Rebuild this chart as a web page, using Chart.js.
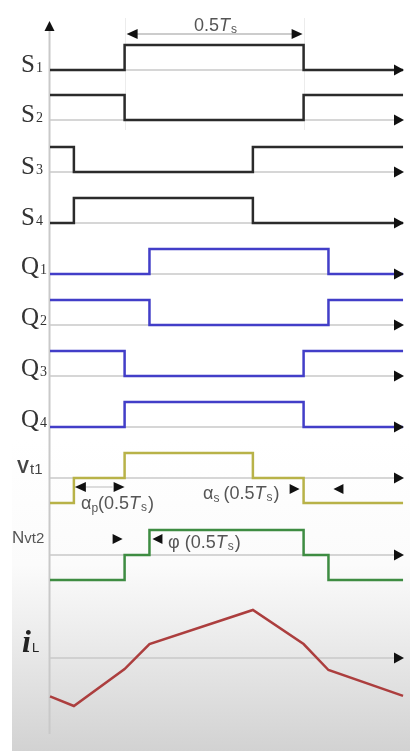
<!DOCTYPE html>
<html>
<head>
<meta charset="utf-8">
<script src="https://cdn.jsdelivr.net/npm/chart.js@4.4.0/dist/chart.umd.min.js"></script>
<style>
  html, body { margin: 0; padding: 0; background: #fff; }
  canvas { display: block; }
</style>
</head>
<body>
<canvas id="myChart" width="410" height="751"></canvas>
<script>
// switching instants in degrees (180 = 0.5Ts); a point holds its level until the next one
const times = [0, 24, 75, 100, 204, 255, 280, 355];
const s1 = [0, 0, 1, 1, 1, 0, 0, 0];
const s2 = [1, 1, 0, 0, 0, 1, 1, 1];
const s3 = [1, 0, 0, 0, 1, 1, 1, 1];
const s4 = [0, 1, 1, 1, 0, 0, 0, 0];
const q1 = [0, 0, 0, 1, 1, 1, 0, 0];
const q2 = [1, 1, 1, 0, 0, 0, 1, 1];
const q3 = [1, 1, 0, 0, 0, 1, 1, 1];
const q4 = [0, 0, 1, 1, 1, 0, 0, 0];
const vt1 = [-1, 0, 1, 1, 0, -1, -1, -1];
const nvt2 = [-1, -1, 0, 1, 1, 0, -1, -1];
// inductor current, normalised to its peak
const iL = [-0.8, -1.0, -0.23, 0.29, 1.0, 0.29, -0.25, -0.79];

const names = ["S1", "S2", "S3", "S4", "Q1", "Q2", "Q3", "Q4"];

// layout (pixel rows, y scale runs 0..751 top-down)
const rowBase = [70, 120, 172, 223, 274, 325, 376, 427];
const amp = 25;
const vt1Mid = 478, nvt2Mid = 555, iLAxis = 658, iLAmp = 48;

const BLACK = "#2b2b2b";
const BLUE = "rgb(66, 62, 200)";
const OLIVE = "rgb(184, 178, 72)";
const GREEN = "rgb(62, 140, 66)";
const RED = "rgb(172, 62, 62)";

function wave(levels, base, a) {
  return times.map((t, i) => ({ x: t, y: base - levels[i] * a }));
}

const digital = [s1, s2, s3, s4, q1, q2, q3, q4];
const datasets = digital.map((lv, i) => ({
  data: wave(lv, rowBase[i], amp),
  borderColor: i < 4 ? BLACK : BLUE,
  borderWidth: 2.5,
  stepped: true,
}));
datasets.push({ data: wave(vt1, vt1Mid, amp), borderColor: OLIVE, borderWidth: 2.5, stepped: true });
datasets.push({ data: wave(nvt2, nvt2Mid, amp), borderColor: GREEN, borderWidth: 2.5, stepped: true });
datasets.push({ data: wave(iL, iLAxis, iLAmp), borderColor: RED, borderWidth: 2.5, tension: 0 });

function head(ctx, tipX, y, dir, len, half, color) {
  // dir: 1 = points right, -1 = points left
  ctx.fillStyle = color || "#111";
  ctx.beginPath();
  ctx.moveTo(tipX, y);
  ctx.lineTo(tipX - dir * len, y - half);
  ctx.lineTo(tipX - dir * len, y + half);
  ctx.closePath();
  ctx.fill();
}

// draw a run of [text, font, dy] pieces one after the other
function run(ctx, x, y, parts, color) {
  ctx.fillStyle = color;
  parts.forEach(([txt, font, dy, gap]) => {
    ctx.font = font;
    ctx.fillText(txt, x, y + (dy || 0));
    x += ctx.measureText(txt).width + (gap || 0);
  });
}

const F = '18px "Liberation Sans"';
const FI = 'italic 18px "Liberation Sans"';
const FS = '12px "Liberation Sans"';

const diagram = {
  id: "diagram",
  beforeDatasetsDraw(chart) {
    const ctx = chart.ctx;
    const xs = chart.scales.x;
    ctx.save();
    // grey backdrop of the lower part
    const g = ctx.createLinearGradient(0, 440, 0, 751);
    g.addColorStop(0, "#ffffff");
    g.addColorStop(0.4, "#fbfbfb");
    g.addColorStop(0.6, "#eeeeee");
    g.addColorStop(1, "#d2d2d2");
    ctx.fillStyle = g;
    ctx.fillRect(12, 440, 398, 311);

    // faint guides for 0.5Ts
    ctx.strokeStyle = "#ececec";
    ctx.lineWidth = 1;
    [75, 255].forEach(t => {
      const px = Math.round(xs.getPixelForValue(t)) + 0.5;
      ctx.beginPath();
      ctx.moveTo(px, 18);
      ctx.lineTo(px, 130);
      ctx.stroke();
    });

    // time axes
    const x0 = xs.getPixelForValue(0);
    ctx.strokeStyle = "#c9c9c9";
    ctx.lineWidth = 1.5;
    rowBase.concat([vt1Mid, nvt2Mid, iLAxis]).forEach(y => {
      ctx.beginPath();
      ctx.moveTo(x0, y);
      ctx.lineTo(398, y);
      ctx.stroke();
    });
    // vertical axis
    ctx.lineWidth = 2;
    ctx.beginPath();
    ctx.moveTo(x0 - 0.5, 28);
    ctx.lineTo(x0 - 0.5, 734);
    ctx.stroke();
    ctx.restore();
  },
  afterDatasetsDraw(chart) {
    const ctx = chart.ctx;
    const xs = chart.scales.x;
    const px = t => xs.getPixelForValue(t);
    ctx.save();
    ctx.textBaseline = "alphabetic";

    // arrow heads on axes
    rowBase.concat([vt1Mid, nvt2Mid, iLAxis]).forEach(y => head(ctx, 404, y, 1, 10, 5.5));
    ctx.fillStyle = "#111";
    ctx.beginPath();
    ctx.moveTo(px(0) - 0.5, 21);
    ctx.lineTo(px(0) - 5.5, 31);
    ctx.lineTo(px(0) + 4.5, 31);
    ctx.closePath();
    ctx.fill();

    // 0.5Ts dimension
    const a = px(75) + 2, b = px(255) - 1;
    ctx.strokeStyle = "#9a9a9a";
    ctx.lineWidth = 1.2;
    ctx.beginPath();
    ctx.moveTo(a + 8, 34);
    ctx.lineTo(b - 8, 34);
    ctx.stroke();
    head(ctx, a, 34, -1, 11, 5);
    head(ctx, b, 34, 1, 11, 5);
    run(ctx, 194, 31, [["0.5", F], ["T", FI, 0, 1], ["s", FS, 2]], "#555");

    // signal names
    names.forEach((n, i) => {
      const isS = i < 4;
      run(ctx, 21, rowBase[i] + (isS ? 2 : 0),
        [[n[0], '25px "Liberation Serif"', 0, 1], [n[1], '14px "Liberation Serif"']], "#333");
    });
    run(ctx, 17, 473, [["V", 'bold 18px "Liberation Sans"', 0, 1], ["t1", '15px "Liberation Sans"', 1]], "#444");
    run(ctx, 12, 543, [["N", '17px "Liberation Sans"'], ["vt2", '15px "Liberation Sans"']], "#555");
    run(ctx, 22, 652, [["i", 'italic bold 32px "Liberation Serif"', 0, 1], ["L", '13px "Liberation Sans"']], "#222");

    // alpha_p
    ctx.strokeStyle = "#bbb";
    ctx.lineWidth = 1;
    ctx.beginPath();
    ctx.moveTo(px(24) + 12, 487);
    ctx.lineTo(px(75) - 12, 487);
    ctx.stroke();
    head(ctx, px(24) + 1, 487, -1, 11, 5);
    head(ctx, px(75), 487, 1, 11, 5);
    run(ctx, 81, 509, [["α", F], ["p", FS, 3], ["(0.5", F], ["T", FI, 0, 1], ["s", FS, 2, 1], [")", F]], "#555");

    // alpha_s
    head(ctx, px(255) - 4, 489, 1, 10, 5);
    head(ctx, px(280) + 5, 489, -1, 10, 5);
    run(ctx, 203, 499, [["α", F], ["s", FS, 3, 4], ["(0.5", F], ["T", FI, 0, 1], ["s", FS, 2, 1], [")", F]], "#555");

    // phi
    head(ctx, px(75) - 2, 539, 1, 10, 5);
    head(ctx, px(100) + 3, 539, -1, 10, 5);
    run(ctx, 168, 548, [["φ (0.5", F], ["T", FI, 0, 1], ["s", FS, 2, 1], [")", F]], "#555");

    ctx.restore();
  },
};

new Chart(document.getElementById("myChart"), {
  type: "scatter",
  data: { datasets: datasets.map(d => Object.assign({ showLine: true, pointRadius: 0, fill: false }, d)) },
  options: {
    responsive: false,
    devicePixelRatio: 1,
    animation: false,
    layout: { padding: 0 },
    scales: {
      x: { type: "linear", min: -50.3, max: 362, display: false },
      y: { type: "linear", min: 0, max: 751, reverse: true, display: false },
    },
    plugins: { legend: { display: false }, tooltip: { enabled: false } },
  },
  plugins: [diagram],
});
</script>
</body>
</html>
